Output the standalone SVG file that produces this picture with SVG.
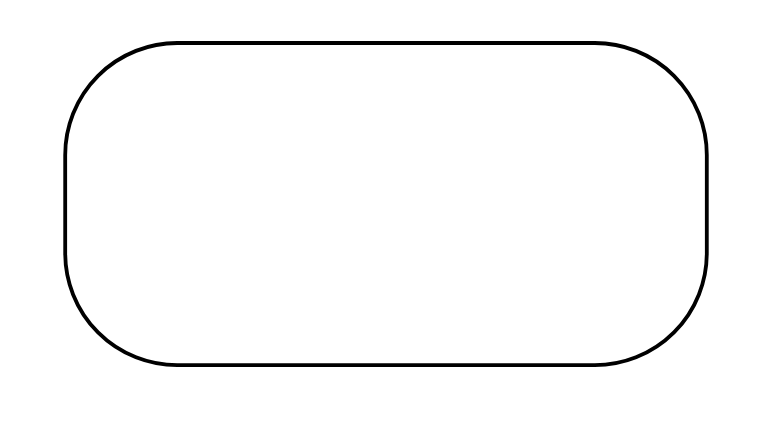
<svg xmlns="http://www.w3.org/2000/svg" width="784" height="422" viewBox="0 0 784 422">
<style>.node{fill:#fff;stroke:#000;stroke-width:3.8}</style>
<rect width="784" height="422" fill="#fff"/>
<g id="node1"><rect class="node" x="65.2" y="43" width="641.6" height="322.2" rx="112" ry="112"/></g>
<g id="connectors"></g>
</svg>
